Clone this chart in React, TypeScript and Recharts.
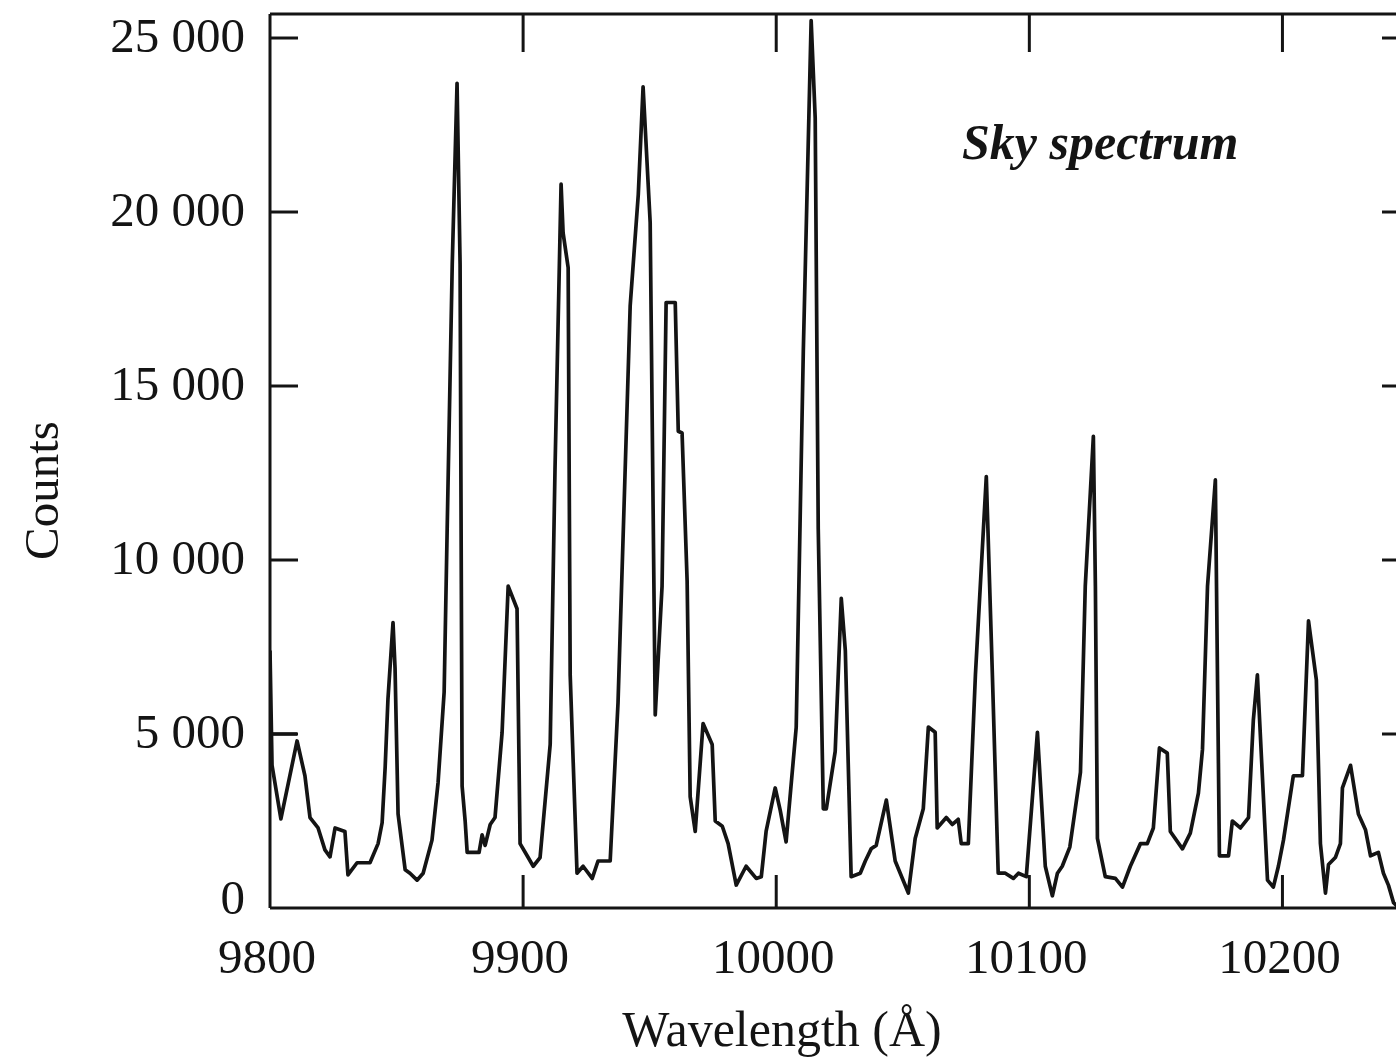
import { Line, LineChart, XAxis, YAxis } from 'recharts';

// Sky spectrum (wavelength in Å, counts).
const WAVELENGTHS = [
  9800.0, 9800.8, 9804.3, 9810.7, 9813.8, 9815.8, 9819.0, 9821.7, 9823.7, 9825.7,
  9829.6, 9830.8, 9834.4, 9839.5, 9842.7, 9844.3, 9845.5, 9846.6, 9848.6, 9849.4,
  9850.6, 9853.4, 9855.3, 9858.1, 9860.5, 9864.0, 9866.4, 9868.8, 9870.0, 9872.0,
  9873.9, 9875.1, 9875.9, 9877.1, 9877.9, 9882.6, 9883.8, 9885.0, 9887.0, 9888.9,
  9891.7, 9894.1, 9897.6, 9898.8, 9901.6, 9904.0, 9906.7, 9910.7, 9912.6, 9915.0,
  9915.8, 9917.8, 9918.6, 9921.3, 9923.7, 9927.3, 9929.6, 9934.4, 9937.5, 9942.3,
  9945.5, 9947.4, 9950.2, 9952.2, 9954.9, 9956.5, 9960.1, 9961.3, 9962.8, 9964.8,
  9966.0, 9968.0, 9971.1, 9974.7, 9975.9, 9978.7, 9981.0, 9984.2, 9988.1, 9992.1,
  9994.1, 9996.0, 9999.6, 10001.6, 10003.9, 10007.9, 10010.7, 10013.8, 10015.4, 10016.6,
  10018.6, 10019.8, 10023.3, 10025.7, 10027.3, 10029.6, 10033.2, 10035.2, 10037.5, 10039.5,
  10043.5, 10047.0, 10052.2, 10054.9, 10058.1, 10060.1, 10062.8, 10063.6, 10067.2, 10069.6,
  10071.9, 10073.1, 10075.9, 10078.7, 10083.0, 10085.4, 10087.7, 10090.5, 10093.7, 10095.7,
  10098.8, 10103.2, 10106.3, 10109.1, 10111.1, 10113.0, 10116.0, 10120.2, 10122.1, 10125.3,
  10126.1, 10126.9, 10130.0, 10134.0, 10136.8, 10139.9, 10143.9, 10146.6, 10149.0, 10151.4,
  10154.5, 10155.7, 10160.5, 10163.6, 10166.8, 10168.4, 10170.4, 10173.5, 10175.1, 10178.7,
  10180.2, 10183.4, 10186.6, 10188.5, 10190.1, 10194.1, 10196.4, 10198.4, 10200.4, 10204.3,
  10207.9, 10210.3, 10213.4, 10215.0, 10217.0, 10218.2, 10220.9, 10222.9, 10223.7, 10226.9,
  10230.0, 10232.8, 10234.8, 10237.9, 10239.9, 10241.9, 10243.9, 10246.0, 10250.0,
];

const COUNTS = [
  7400, 4100, 2560, 4800, 3800, 2600, 2300, 1670, 1470, 2300,
  2200, 950, 1300, 1300, 1850, 2450, 4050, 6000, 8200, 6900,
  2700, 1100, 1000, 800, 1000, 1950, 3600, 6200, 10900, 18500,
  23700, 18500, 3500, 2500, 1600, 1600, 2100, 1800, 2400, 2600,
  5050, 9250, 8600, 1850, 1500, 1200, 1450, 4700, 12600, 20800,
  19400, 18400, 6700, 1000, 1200, 850, 1350, 1350, 5900, 17300,
  20500, 23600, 19700, 5550, 9250, 17400, 17400, 13700, 13650, 9400,
  3200, 2200, 5300, 4700, 2500, 2350, 1850, 660, 1200, 850,
  900, 2200, 3450, 2800, 1900, 5200, 16000, 25500, 22700, 10900,
  2850, 2850, 4500, 8900, 7400, 900, 1000, 1350, 1700, 1800,
  3100, 1350, 430, 2000, 2850, 5200, 5050, 2300, 2600, 2400,
  2550, 1850, 1850, 6700, 12400, 6700, 1000, 1000, 850, 1000,
  900, 5050, 1200, 350, 1000, 1200, 1750, 3900, 9250, 13550,
  9250, 2000, 900, 850, 600, 1200, 1850, 1850, 2300, 4600,
  4450, 2200, 1700, 2150, 3300, 4550, 9250, 12300, 1500, 1500,
  2500, 2300, 2600, 5400, 6700, 800, 600, 1200, 1950, 3800,
  3800, 8250, 6550, 1850, 430, 1250, 1450, 1850, 3450, 4100,
  2700, 2250, 1500, 1600, 1000, 650, 150, 0, 0,
];

// short flat stroke at 5 000 next to the left frame in the original
const EDGE_WAVELENGTHS = [9800, 9810.7];
const EDGE_COUNTS = [5000, 5000];

const X_TICKS = [9800, 9900, 10000, 10100, 10200];
const Y_TICKS = [0, 5000, 10000, 15000, 20000, 25000];
const X_DOMAIN = [9800, 10250];
const Y_DOMAIN = [0, 25690];

const INK = '#141414';
const SERIF = '"Liberation Serif", "Times New Roman", serif';
const FONT_SIZE = 49;

const spectrum = WAVELENGTHS.map((w, i) => ({ w, c: COUNTS[i] }));
const edge = EDGE_WAVELENGTHS.map((w, i) => ({ w, c: EDGE_COUNTS[i] }));

function formatCounts(v: number): string {
  if (v === 0) return '0';
  const s = String(v);
  return `${s.slice(0, s.length - 3)} ${s.slice(-3)}`;
}

function BottomTick({ x, y, payload }: any) {
  const atEdge = payload.value === X_DOMAIN[0];
  return (
    <g>
      {!atEdge && <line x1={x} y1={y} x2={x} y2={y - 33} stroke={INK} strokeWidth={3} />}
      <text x={x - 3} y={y + 65} textAnchor="middle" fontSize={FONT_SIZE} fontFamily={SERIF} fill={INK}>
        {payload.value}
      </text>
    </g>
  );
}

function TopTick({ x, y, payload }: any) {
  if (payload.value === X_DOMAIN[0]) return <g />;
  return <line x1={x} y1={y} x2={x} y2={y + 38} stroke={INK} strokeWidth={3} />;
}

function LeftTick({ x, y, payload }: any) {
  const zero = payload.value === 0;
  return (
    <g>
      {!zero && <line x1={x} y1={y} x2={x + 28} y2={y} stroke={INK} strokeWidth={3} />}
      <text
        x={x - 25}
        y={y + (zero ? 6 : 14)}
        textAnchor="end"
        fontSize={FONT_SIZE}
        fontFamily={SERIF}
        fill={INK}
      >
        {formatCounts(payload.value)}
      </text>
    </g>
  );
}

function RightTick({ x, y, payload }: any) {
  if (payload.value === 0) return <g />;
  return <line x1={x} y1={y} x2={x - 27} y2={y} stroke={INK} strokeWidth={3} />;
}

const textStyle = {
  position: 'absolute' as const,
  fontFamily: SERIF,
  fontSize: FONT_SIZE,
  lineHeight: `${FONT_SIZE}px`,
  color: INK,
  whiteSpace: 'nowrap' as const,
};

export default function App() {
  return (
    <div
      style={{
        position: 'absolute',
        left: 0,
        top: 0,
        width: 1396,
        height: 1061,
        overflow: 'hidden',
        background: '#fff',
      }}
    >
      <LineChart
        width={1430}
        height={1061}
        margin={{ top: 4, right: 11, bottom: 53, left: 70 }}
      >
        <XAxis
          xAxisId="b"
          dataKey="w"
          type="number"
          domain={X_DOMAIN}
          ticks={X_TICKS}
          allowDataOverflow
          height={100}
          axisLine={{ stroke: INK, strokeWidth: 3 }}
          tickLine={false}
          tickSize={0}
          tickMargin={0}
          tick={<BottomTick />}
          interval={0}
        />
        <XAxis
          xAxisId="t"
          orientation="top"
          dataKey="w"
          type="number"
          domain={X_DOMAIN}
          ticks={X_TICKS}
          allowDataOverflow
          height={10}
          axisLine={{ stroke: INK, strokeWidth: 3 }}
          tickLine={false}
          tickSize={0}
          tickMargin={0}
          tick={<TopTick />}
          interval={0}
        />
        <YAxis
          yAxisId="l"
          dataKey="c"
          type="number"
          domain={Y_DOMAIN}
          ticks={Y_TICKS}
          allowDataOverflow
          width={200}
          axisLine={{ stroke: INK, strokeWidth: 3 }}
          tickLine={false}
          tickSize={0}
          tickMargin={0}
          tick={<LeftTick />}
          interval={0}
        />
        <YAxis
          yAxisId="r"
          orientation="right"
          dataKey="c"
          type="number"
          domain={Y_DOMAIN}
          ticks={Y_TICKS}
          allowDataOverflow
          width={10}
          axisLine={{ stroke: INK, strokeWidth: 3 }}
          tickLine={false}
          tickSize={0}
          tickMargin={0}
          tick={<RightTick />}
          interval={0}
        />
        <Line
          xAxisId="b"
          yAxisId="l"
          data={edge}
          dataKey="c"
          type="linear"
          stroke={INK}
          strokeWidth={3.4}
          dot={false}
          isAnimationActive={false}
        />
        <Line
          xAxisId="b"
          yAxisId="l"
          data={spectrum}
          dataKey="c"
          type="linear"
          stroke={INK}
          strokeWidth={3.7}
          strokeLinejoin="round"
          dot={false}
          isAnimationActive={false}
        />
      </LineChart>

      <div style={{ ...textStyle, left: 582, top: 1005, width: 400, textAlign: 'center', fontSize: 50 }}>
        Wavelength (Å)
      </div>
      <div
        style={{
          ...textStyle,
          left: -59.5,
          top: 465.5,
          width: 200,
          height: FONT_SIZE,
          textAlign: 'center',
          transform: 'rotate(-90deg)',
        }}
      >
        Counts
      </div>
      <div style={{ ...textStyle, left: 962, top: 118, fontWeight: 'bold', fontStyle: 'italic', fontSize: 50 }}>
        Sky spectrum
      </div>
    </div>
  );
}
